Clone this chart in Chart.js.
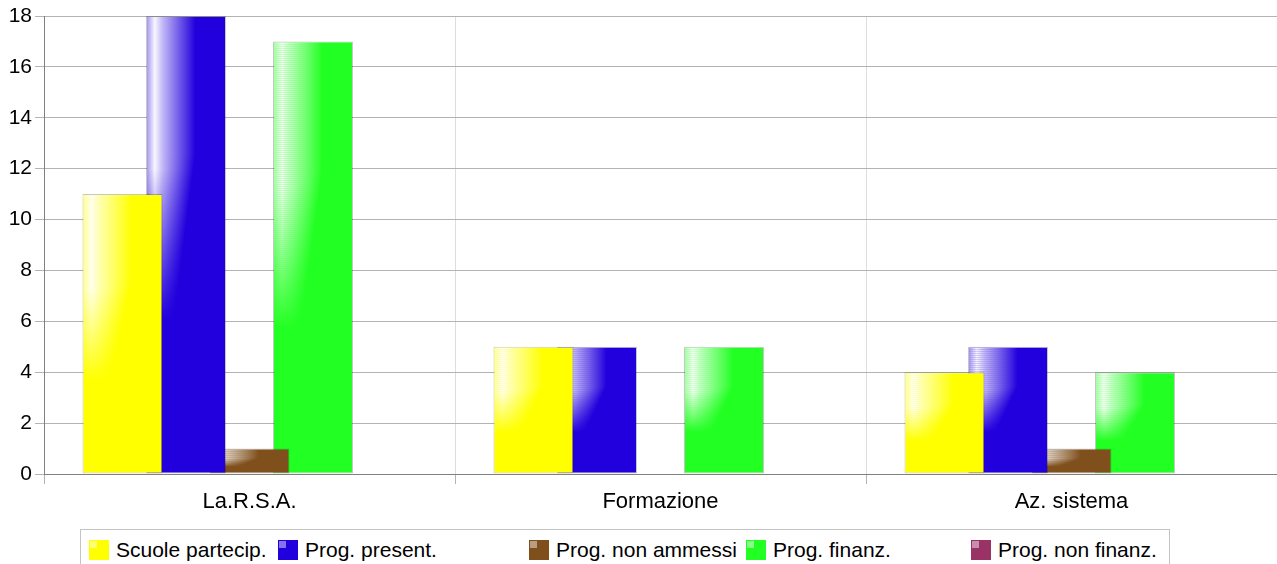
<!DOCTYPE html>
<html>
<head>
<meta charset="utf-8">
<script src="https://cdn.jsdelivr.net/npm/chart.js@4"></script>
<style>
  body { margin: 0; background: #fff; font-family: "Liberation Sans", Arial, sans-serif; }
  #wrap { position: absolute; left: 0; top: 0; width: 1277px; height: 525px; }
  #legend { position: absolute; left: 80px; top: 529px; width: 1090px; height: 40px;
            border: 1px solid #c4c4c4; border-bottom: none; box-sizing: border-box; }
  .item { position: absolute; top: 8px; height: 24px; display: flex; align-items: center;
          font-size: 21px; color: #000; white-space: nowrap; }
  .sw { width: 20px; height: 20px; margin-right: 7px; position: relative; box-sizing: border-box; }
  .sw span { position: absolute; left: 1px; top: 1px; width: 7px; height: 7px; background: rgba(255,255,255,0.45); }
</style>
</head>
<body>
<div id="wrap"><canvas id="chart"></canvas></div>
<div id="legend"></div>
<script>
// Data
const categories = ['La.R.S.A.', 'Formazione', 'Az. sistema'];
const seriesNames = ['Scuole partecip.', 'Prog. present.', 'Prog. non ammessi', 'Prog. finanz.', 'Prog. non finanz.'];
const scuolePartecip = [11, 5, 4];
const progPresent = [18, 5, 5];
const progNonAmmessi = [1, 0, 1];
const progFinanz = [17, 5, 4];
const progNonFinanz = [0, 0, 0];

const colors = ['#ffff00', '#2200dd', '#7f4f1c', '#22ff22', '#993366'];
const legendLeft = [8, 197, 448, 665, 890]; // item offsets inside legend box

// glossy highlight on the top part of every bar, drawn right after its dataset
const glossPlugin = {
  id: 'gloss',
  afterDatasetDraw(chart, args) {
    const ctx = chart.ctx;
    args.meta.data.forEach(bar => {
      const { x, y, base, width } = bar.getProps(['x', 'y', 'base', 'width'], true);
      const h = base - y;
      if (h < 3) return;
      const left = x - width / 2 + 1, w = width - 2;
      const zone = h * 0.66;
      ctx.save();
      for (let s = 0; s < zone; s += 2) {
        const t = s / zone;
        const reach = t < 0.45 ? 0.62 : 0.62 - (t - 0.45) * 0.5;
        const g = ctx.createLinearGradient(left, 0, left + w, 0);
        g.addColorStop(0, 'rgba(255,255,255,0.6)');
        g.addColorStop(0.1, 'rgba(255,255,255,0.97)');
        g.addColorStop(0.2, 'rgba(255,255,255,0.72)');
        g.addColorStop(reach, 'rgba(255,255,255,0)');
        g.addColorStop(1, 'rgba(255,255,255,0)');
        ctx.globalAlpha = t < 0.5 ? 1 : Math.max(0, 1 - (t - 0.5) / 0.5);
        ctx.fillStyle = g;
        ctx.fillRect(left, y + 1 + s, w, Math.min(2, zone - s));
      }
      ctx.restore();
    });
  }
};

const values = [scuolePartecip, progPresent, progNonAmmessi, progFinanz, progNonFinanz];

new Chart(document.getElementById('chart'), {
  type: 'bar',
  data: {
    labels: categories,
    datasets: seriesNames.map((name, i) => ({
      label: name,
      data: values[i],
      backgroundColor: colors[i],
      borderColor: 'rgba(0,0,0,0.22)',
      borderWidth: 1,
      borderSkipped: false,
      categoryPercentage: 0.7725,
      barPercentage: 1.26
    }))
  },
  options: {
    responsive: true,
    maintainAspectRatio: false,
    animation: false,
    layout: { padding: { top: 16, right: 0, left: 0, bottom: 0 } },
    plugins: { legend: { display: false }, tooltip: { enabled: false } },
    scales: {
      x: {
        afterFit: s => { s.height = 51; },
        grid: {
          offset: true,
          color: c => c.index === categories.length ? 'rgba(0,0,0,0)' : '#dddddd',
          tickColor: '#b3b3b3',
          tickLength: 10
        },
        border: { color: '#808080' },
        ticks: { color: '#000', padding: 5, font: { family: 'Liberation Sans', size: 22 } }
      },
      y: {
        min: 0,
        max: 18,
        afterFit: s => { s.width = 44; },
        grid: {
          color: c => (c.tick.value % 2 ? '#e9e9e9' : '#b3b3b3'),
          tickColor: c => (c.tick.value % 2 ? 'rgba(0,0,0,0)' : '#b3b3b3'),
          tickLength: 9
        },
        border: { color: '#808080' },
        ticks: {
          stepSize: 1,
          color: '#000',
          padding: 3,
          font: { family: 'Liberation Sans', size: 21 },
          callback: v => (v % 2 === 0 ? v : '')
        }
      }
    }
  },
  plugins: [glossPlugin]
});

// legend below the chart
const legend = document.getElementById('legend');
seriesNames.forEach((name, i) => {
  const item = document.createElement('div');
  item.className = 'item';
  item.style.left = legendLeft[i] + 'px';
  const sw = document.createElement('div');
  sw.className = 'sw';
  sw.style.background = colors[i];
  sw.appendChild(document.createElement('span'));
  item.appendChild(sw);
  item.appendChild(document.createTextNode(name));
  legend.appendChild(item);
});
</script>
</body>
</html>
